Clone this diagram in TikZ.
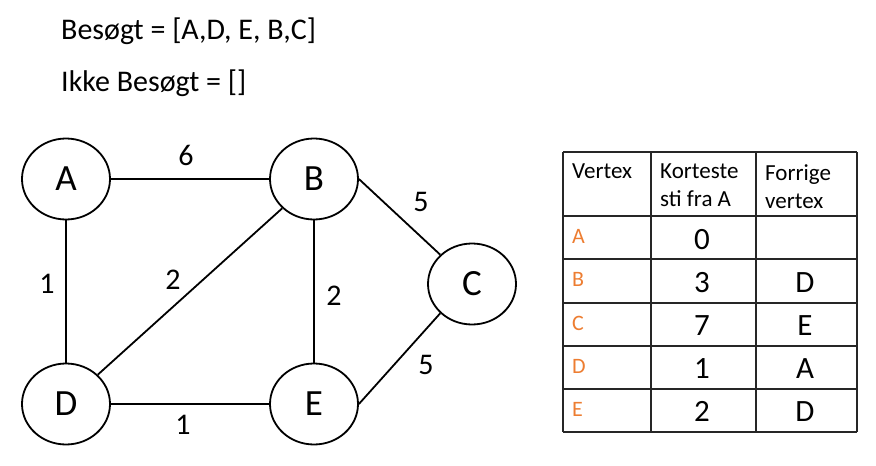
\documentclass[tikz,border=0pt]{standalone}
\usepackage{fontspec}
\setmainfont{Carlito}
\usetikzlibrary{shapes.geometric}
\definecolor{vorange}{RGB}{237,125,49}
\newcommand{\fsize}[1]{\fontsize{#1}{#1}\selectfont}

\begin{document}
\begin{tikzpicture}[x=1pt, y=-1pt,
    vertex/.style={draw, ellipse, line width=1.8pt, minimum width=88pt, minimum height=81pt, inner sep=0pt, font=\fsize{37}},
    weight/.style={inner sep=0pt, font=\fsize{30}},
    edge/.style={line width=1.8pt},
    tableline/.style={line width=1.1pt, black!85},
    headtext/.style={inner sep=0pt, align=left, font=\fontsize{23}{28}\selectfont},
    celltext/.style={inner sep=0pt, font=\fsize{31}}]
    \useasboundingbox (0,0) rectangle (876,466);

    % Lists
    \node[anchor=base west, inner sep=0pt, font=\fsize{30}] (visited) at (61,39) {Besøgt = [A,D, E, B,C]};
    \node[anchor=base west, inner sep=0pt, font=\fsize{30}] (unvisited) at (61,91) {Ikke Besøgt = []};

    % Draw vertices
    \node[vertex] (A) at (66,179) {A};
    \node[vertex] (B) at (314,179) {B};
    \node[vertex] (C) at (472,284) {C};
    \node[vertex] (D) at (66,404) {D};
    \node[vertex] (E) at (314,404) {E};

    % Draw edges
    \draw[edge] (A) -- (B);
    \draw[edge] (A) -- (D);
    \draw[edge] (D.north east) -- (B.south west);
    \draw[edge] (B) -- (E);
    \draw[edge] (D) -- (E);
    \draw[edge] (B.east) -- (C.north west);
    \draw[edge] (C.south west) -- (E.east);

    % Weights
    \node[weight] (wAB) at (186,155) {6};
    \node[weight] (wAD) at (47,284) {1};
    \node[weight] (wDB) at (173,280) {2};
    \node[weight] (wBE) at (334,296) {2};
    \node[weight] (wBC) at (421,202) {5};
    \node[weight] (wCE) at (426,365) {5};
    \node[weight] (wDE) at (183,425) {1};

    % Draw table
    \foreach \x in {563,651,756,857} {
        \draw[tableline] (\x,152) -- (\x,432);
    }
    \foreach \y in {152,216,259,303,346,389,432} {
        \draw[tableline] (563,\y) -- (857,\y);
    }

    \node[headtext, anchor=base west] (hvertex) at (572,178) {Vertex};
    \node[headtext, anchor=north west] (hdist) at (660,164) {Korteste\\sti fra A};
    \node[headtext, anchor=north west] (hprev) at (765,164) {Forrige\\vertex};

    \foreach \vname/\dist/\prev [count=\i] in {A/0/{}, B/3/D, C/7/E, D/1/A, E/2/D} {
        \pgfmathsetmacro{\ry}{216+43.2*(\i-1)+21.6}
        \node[headtext, text=vorange, anchor=west, font=\fsize{22}] (row\vname) at (572,\ry-1) {\vname};
        \node[celltext] (dist\vname) at (702,\ry+1.5) {\dist};
        \node[celltext] (prev\vname) at (805,\ry+1.5) {\prev};
    }
\end{tikzpicture}
\end{document}
